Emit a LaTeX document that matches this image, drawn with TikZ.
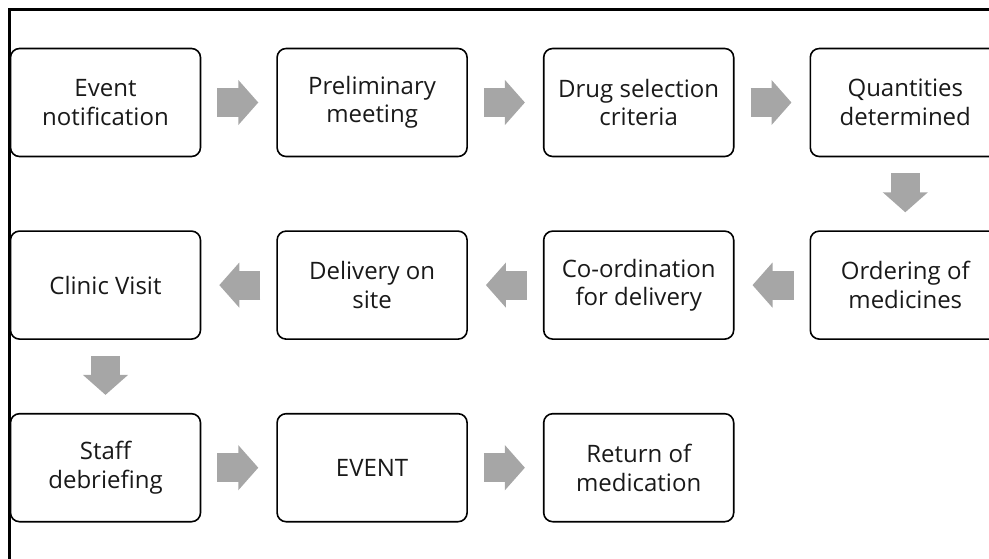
\documentclass[tikz,border=0pt]{standalone}
\usepackage{fontspec}
\setmainfont{Open Sans}
\usetikzlibrary{arrows.meta,positioning}
\definecolor{arrowgray}{HTML}{A6A6A6}
\tikzset{
    stage/.style={draw,line width=1.6pt,rounded corners=9pt,minimum width=190pt,minimum height=108pt,inner sep=0pt,align=center,font=\fontsize{24}{28.5}\selectfont,text=black!90},
    flow/.style={arrowgray,line width=29pt,shorten <=16pt,shorten >=18pt,-{Triangle[length=20pt,width=44pt]}}
}
\begin{document}
\begin{tikzpicture}[x=1pt,y=-1pt,node distance=75pt]
        \useasboundingbox (0,0) rectangle (989,558);
        \clip (0,0) rectangle (989,558);
        \draw[line width=2.5pt] (9.5,9.5) rectangle (1100,700);
        % first row
        \node[stage] (notify) at (105.5,102.5) {Event\\notification};
        \node[stage,right=of notify] (prelim) {Preliminary\\meeting};
        \node[stage,right=of prelim] (select) {Drug selection\\criteria};
        \node[stage,right=of select] (qty) {Quantities\\determined};
        % second row
        \node[stage,below=73pt of qty] (order) {Ordering of\\medicines};
        \node[stage,left=of order] (coord) {Co-ordination\\for delivery};
        \node[stage,left=of coord] (deliver) {Delivery on\\site};
        \node[stage,left=of deliver] (clinic) {Clinic Visit};
        % third row
        \node[stage,below=73pt of clinic] (debrief) {Staff\\debriefing};
        \node[stage,right=of debrief] (event) {EVENT};
        \node[stage,right=of event] (return) {Return of\\medication};
        \foreach \a/\b in {notify/prelim,prelim/select,select/qty,qty/order,order/coord,coord/deliver,deliver/clinic,clinic/debrief,debrief/event,event/return}
            \draw[flow] (\a) -- (\b);
\end{tikzpicture}
\end{document}
